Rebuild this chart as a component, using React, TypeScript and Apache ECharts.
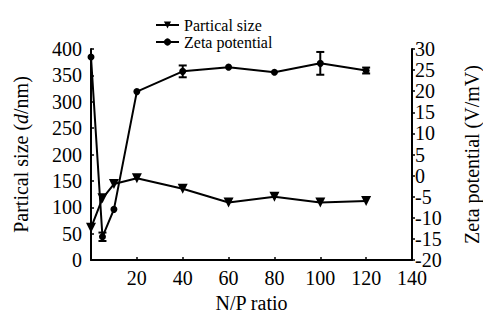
import React, { useEffect, useRef } from "react";
import * as echarts from "echarts";

const npRatio = [0, 5, 10, 20, 40, 60, 80, 100, 120];
const particleSize = [61, 117, 144, 155, 135, 109, 120, 109, 112];
const zetaPotential = [28.1, -14.5, -8.0, 19.9, 24.7, 25.7, 24.5, 26.6, 24.9];
const zetaError = [0, 1, 0, 0, 1.4, 0, 0, 2.7, 0.7];
const xTicks = [20, 40, 60, 80, 100, 120, 140];

const FONT = "Liberation Serif";

export default function App() {
  const ref = useRef<HTMLDivElement>(null);
  useEffect(() => {
    if (!ref.current) return;
    const chart = echarts.init(ref.current, null, { renderer: "svg" });
    const sizeData = npRatio.map((x, i) => [x, particleSize[i]]);
    const zetaData = npRatio.map((x, i) => [x, zetaPotential[i]]);
    const errData = npRatio
      .map((x, i) => [x, zetaPotential[i] - zetaError[i], zetaPotential[i] + zetaError[i]])
      .filter((_, i) => zetaError[i] > 0);
    chart.setOption({
      animation: false,
      backgroundColor: "#fff",
      textStyle: { fontFamily: FONT, color: "#000" },
      grid: { left: 91, right: 71, top: 49, bottom: 50, outerBoundsMode: "none", containLabel: false },
      legend: {
        left: 150,
        top: 12,
        orient: "vertical",
        itemWidth: 23,
        itemHeight: 9,
        itemGap: 1,
        textStyle: { fontFamily: FONT, fontSize: 16, color: "#000", padding: [0, 0, 0, 0] },
        data: ["Partical size", "Zeta potential"],
      },
      xAxis: {
        type: "value",
        min: 0,
        max: 140,
        interval: 20,
        splitLine: { show: false },
        axisLine: { lineStyle: { color: "#000", width: 2 } },
        axisTick: { show: true, inside: true, length: 3, lineStyle: { color: "#000", width: 1.5 } },
        axisLabel: {
          fontFamily: FONT,
          fontSize: 20,
          color: "#000",
          margin: 8,
          formatter: (v: number) => (xTicks.includes(v) ? String(v) : ""),
        },
        name: "N/P ratio",
        nameLocation: "middle",
        nameGap: 32,
        nameTextStyle: { fontFamily: FONT, fontSize: 20, color: "#000" },
      },
      yAxis: [
        {
          type: "value",
          min: 0,
          max: 400,
          interval: 50,
          splitLine: { show: false },
          axisLine: { show: true, lineStyle: { color: "#000", width: 2 } },
          axisTick: { show: true, inside: true, length: 3, lineStyle: { color: "#000", width: 1.5 } },
          axisLabel: { fontFamily: FONT, fontSize: 20, color: "#000", margin: 9 },
          name: "{n|Partical size (}{i|d}{n|/nm)}",
          nameLocation: "middle",
          nameGap: 60,
          nameTextStyle: {
            fontFamily: FONT,
            fontSize: 20,
            rich: {
              n: { fontFamily: FONT, fontSize: 20, color: "#000" },
              i: { fontFamily: FONT, fontSize: 20, color: "#000", fontStyle: "italic" },
            },
          },
        },
        {
          type: "value",
          min: -20,
          max: 30,
          interval: 5,
          position: "right",
          splitLine: { show: false },
          axisLine: { show: true, lineStyle: { color: "#000", width: 2 } },
          axisTick: { show: true, inside: false, length: 3, lineStyle: { color: "#000", width: 1.5 } },
          axisLabel: { fontFamily: FONT, fontSize: 20, color: "#000", margin: 3 },
          name: "Zeta potential (V/mV)",
          nameLocation: "middle",
          nameGap: 50,
          nameRotate: 90,
          nameTextStyle: { fontFamily: FONT, fontSize: 20, color: "#000" },
        },
      ],
      series: [
        {
          name: "Partical size",
          type: "line",
          yAxisIndex: 0,
          data: sizeData,
          symbol: "triangle",
          symbolRotate: 180,
          symbolSize: 10,
          itemStyle: { color: "#000" },
          lineStyle: { color: "#000", width: 2 },
        },
        {
          name: "Zeta potential",
          type: "line",
          yAxisIndex: 1,
          data: zetaData,
          symbol: "circle",
          symbolSize: 7,
          itemStyle: { color: "#000" },
          lineStyle: { color: "#000", width: 2 },
        },
        {
          type: "custom",
          yAxisIndex: 1,
          data: errData,
          silent: true,
          renderItem: (params: any, api: any) => {
            const x = api.value(0);
            const lo = api.coord([x, api.value(1)]);
            const hi = api.coord([x, api.value(2)]);
            const w = 4;
            const style = { stroke: "#000", lineWidth: 2 };
            return {
              type: "group",
              children: [
                { type: "line", shape: { x1: lo[0], y1: lo[1], x2: hi[0], y2: hi[1] }, style },
                { type: "line", shape: { x1: lo[0] - w, y1: lo[1], x2: lo[0] + w, y2: lo[1] }, style },
                { type: "line", shape: { x1: hi[0] - w, y1: hi[1], x2: hi[0] + w, y2: hi[1] }, style },
              ],
            };
          },
        },
      ],
    });
    return () => chart.dispose();
  }, []);
  return (
    <div
      ref={ref}
      style={{ position: "fixed", left: 0, top: 0, width: 483, height: 310 }}
    />
  );
}
